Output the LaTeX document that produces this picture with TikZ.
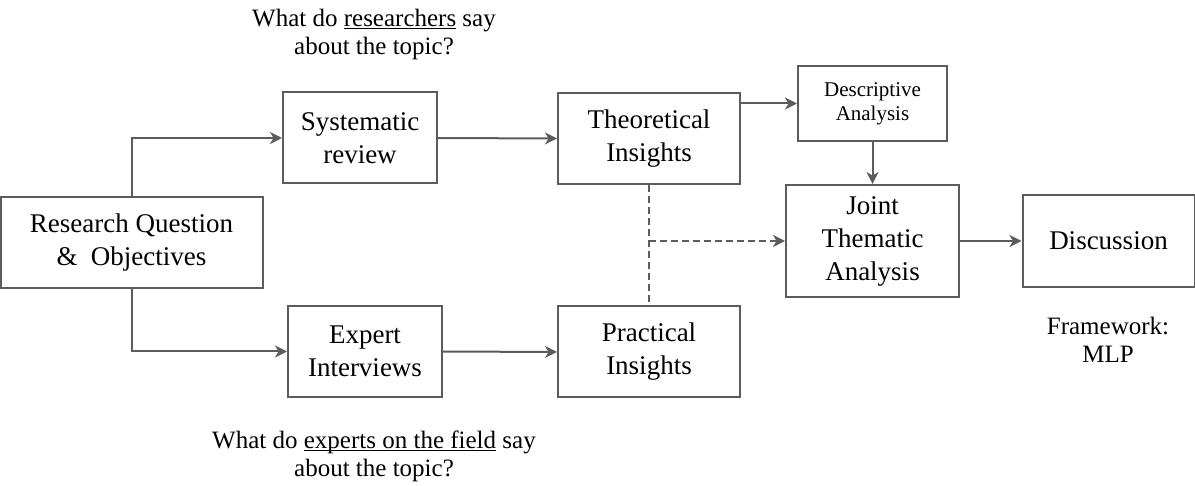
\documentclass[tikz,border=0pt]{standalone}
\usepackage{fontspec}
\setmainfont{Liberation Serif}
\usetikzlibrary{arrows.meta}
% underline at a fixed depth below the baseline
\newcommand{\fixedul}[1]{\setbox0=\hbox{#1}\rlap{\rule[-3.2pt]{\wd0}{1.3pt}}\box0\relax}
\begin{document}
\begin{tikzpicture}[x=1pt,y=-1pt,
  linecol/.style={draw=black!64},
  box/.style={linecol, line width=2pt, fill=white, inner sep=0pt, align=center,
    font=\fontsize{27}{33}\selectfont},
  smallbox/.style={box, font=\fontsize{21}{24}\selectfont},
  note/.style={inner sep=0pt, align=center, font=\fontsize{25}{28}\selectfont},
  flow/.style={linecol, line width=2pt, -{Stealth[length=12pt,width=12pt,inset=3.5pt]}},
  dashflow/.style={flow, dash pattern=on 7pt off 4pt},
  dashline/.style={linecol, line width=2pt, dash pattern=on 7pt off 4pt}]
\useasboundingbox (0,0) rectangle (1195,486);

% boxes
\node[box, minimum width=262pt, minimum height=91pt] (rq) at (131.5,242.5)
  {Research Question\\\&\ \ Objectives};
\node[box, minimum width=154pt, minimum height=91pt] (sys) at (360,138)
  {Systematic\\review};
\node[box, minimum width=154pt, minimum height=91pt] (exp) at (365,351.5)
  {Expert\\Interviews};
\node[box, minimum width=182pt, minimum height=91pt] (theo) at (649,138.5)
  {Theoretical\\Insights};
\node[box, minimum width=182pt, minimum height=91pt] (prac) at (649,352)
  {Practical\\Insights};
\node[smallbox, minimum width=149pt, minimum height=75pt] (desc) at (872.5,103.5)
  {Descriptive\\Analysis};
\node[box, minimum width=173pt, minimum height=112pt] (joint) at (872.5,241)
  {Joint\\Thematic\\Analysis};
\node[box, minimum width=172pt, minimum height=92pt] (disc) at (1108.5,241)
  {Discussion};

% annotations
\node[note] (qres) at (374,34) {What do \fixedul{researchers} say\\about the topic?};
\node[note] (qexp) at (374,456) {What do \fixedul{experts on the field} say\\about the topic?};
\node[note] (frame) at (1108,340) {Framework:\\MLP};

% connectors
\draw[flow] (rq.north) |- (sys.west);
\draw[flow] (rq.south) |- (exp.west);
\draw[flow] (sys.east) -- (theo.west);
\draw[flow] (exp.east) -- (prac.west);
\draw[flow] (theo.east |- desc.west) -- (desc.west);
\draw[flow] (desc.south) -- (joint.north);
\draw[flow] (joint.east) -- (disc.west);

\coordinate (mid) at (theo.south |- joint.west);
\draw[dashline] (theo.south) -- (prac.north);
\draw[dashflow] (mid) -- (joint.west);
\end{tikzpicture}
\end{document}
